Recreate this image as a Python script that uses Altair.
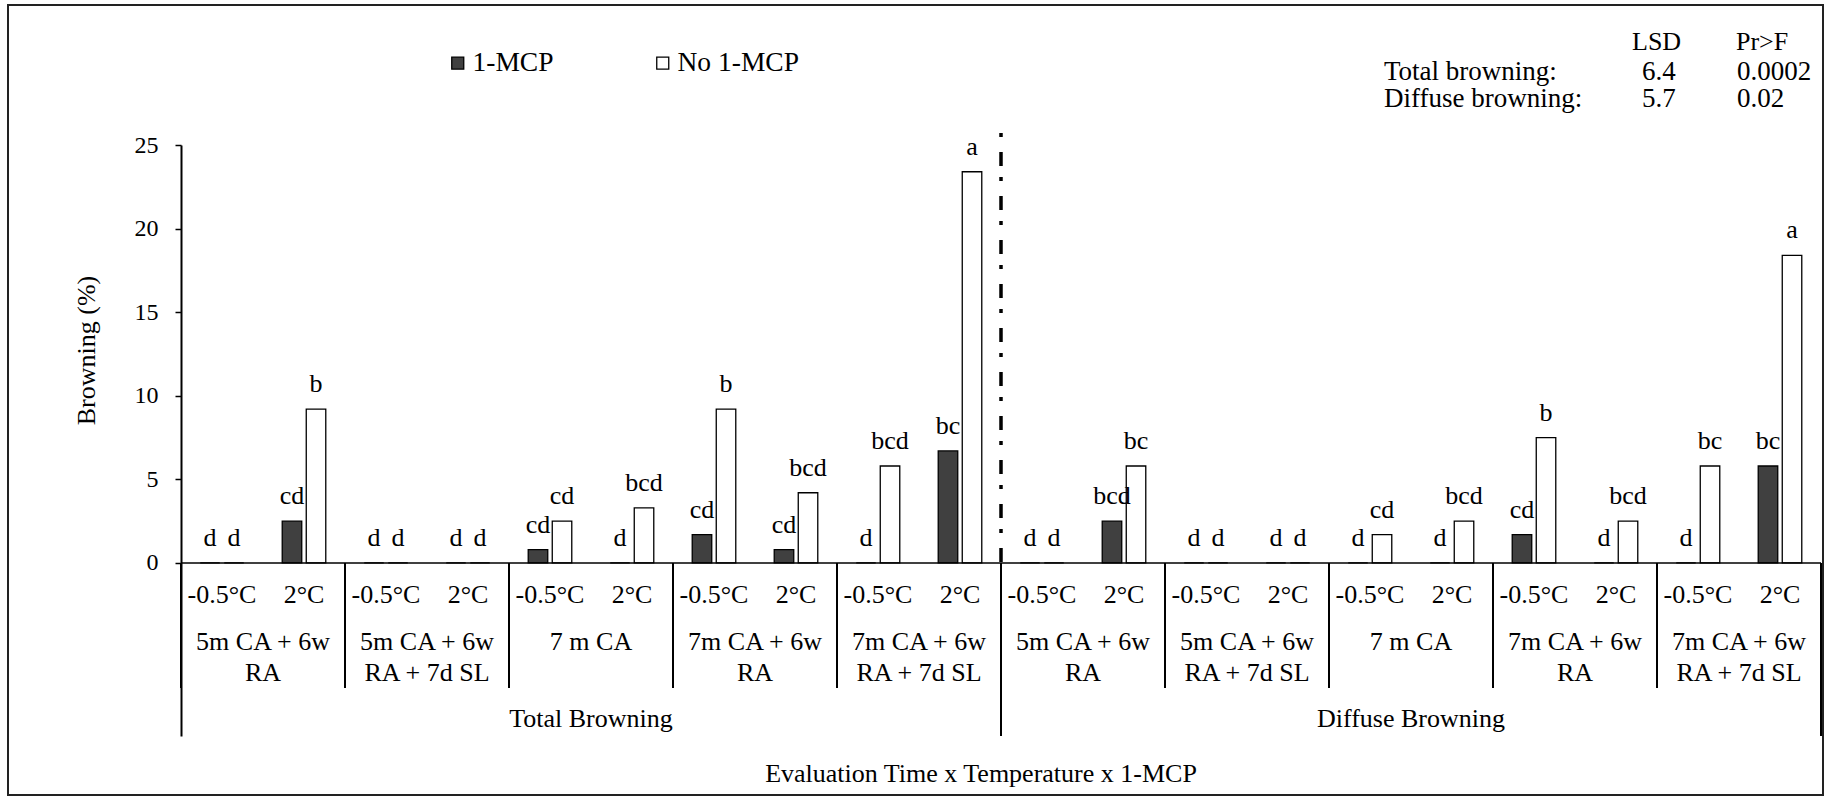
import altair as alt
import pandas as pd

# ---- categories -----------------------------------------------------------
browning_types = ["Total Browning", "Diffuse Browning"]
eval_times = [
    ["5m CA + 6w", "RA"],
    ["5m CA + 6w", "RA + 7d SL"],
    ["7 m CA"],
    ["7m CA + 6w", "RA"],
    ["7m CA + 6w", "RA + 7d SL"],
]
temperatures = ["-0.5°C", "2°C"]
treatments = ["1-MCP", "No 1-MCP"]

# ---- values (%), ordered evaluation time x temperature ---------------------
total_mcp = [0, 2.5, 0, 0, 0.8, 0, 1.7, 0.8, 0, 6.7]
total_no_mcp = [0, 9.2, 0, 0, 2.5, 3.3, 9.2, 4.2, 5.8, 23.4]
diffuse_mcp = [0, 2.5, 0, 0, 0, 0, 1.7, 0, 0, 5.8]
diffuse_no_mcp = [0, 5.8, 0, 0, 1.7, 2.5, 7.5, 2.5, 5.8, 18.4]

# ---- mean separation letters ----------------------------------------------
total_mcp_letters = ["d", "cd", "d", "d", "cd", "d", "cd", "cd", "d", "bc"]
total_no_mcp_letters = ["d", "b", "d", "d", "cd", "bcd", "b", "bcd", "bcd", "a"]
diffuse_mcp_letters = ["d", "bcd", "d", "d", "d", "d", "cd", "d", "d", "bc"]
diffuse_no_mcp_letters = ["d", "bc", "d", "d", "cd", "bcd", "b", "bcd", "bc", "a"]

# ---- statistics box --------------------------------------------------------
stat_rows = ["Total browning:", "Diffuse browning:"]
lsd_values = ["6.4", "5.7"]
pr_values = ["0.0002", "0.02"]

series = {
    ("Total Browning", "1-MCP"): (total_mcp, total_mcp_letters),
    ("Total Browning", "No 1-MCP"): (total_no_mcp, total_no_mcp_letters),
    ("Diffuse Browning", "1-MCP"): (diffuse_mcp, diffuse_mcp_letters),
    ("Diffuse Browning", "No 1-MCP"): (diffuse_no_mcp, diffuse_no_mcp_letters),
}

FONT = "Liberation Serif"
FS = 26
W, H = 1640, 591

keys, temp_rows, time_rows, bar_rows = [], [], [], []
group_starts, type_rows = [], []
for ti, btype in enumerate(browning_types):
    for ei, et in enumerate(eval_times):
        for pi, temp in enumerate(temperatures):
            key = f"{ti}-{ei}-{pi}"
            keys.append(key)
            temp_rows.append({"key": key, "label": temp})
            for tr in treatments:
                vals, lets = series[(btype, tr)]
                bar_rows.append({"key": key, "treatment": tr,
                                 "value": vals[ei * 2 + pi],
                                 "letter": lets[ei * 2 + pi]})
        time_rows.append({"key": f"{ti}-{ei}-1", "label": et})
        group_starts.append({"key": f"{ti}-{ei}-0"})
    type_rows.append({"key": f"{ti}-2-1", "label": btype})

bars_df = pd.DataFrame(bar_rows)
temp_df = pd.DataFrame(temp_rows)
time_df = pd.DataFrame(time_rows)
type_df = pd.DataFrame(type_rows)
groups_df = pd.DataFrame(group_starts)
split_df = pd.DataFrame({"key": ["1-0-0"]})
end_df = pd.DataFrame({"key": [keys[-1]]})
one_df = pd.DataFrame({"k": [0]})

xscale = alt.Scale(domain=keys, paddingInner=0, paddingOuter=0)
yscale = alt.Scale(domain=[-10.35, 25], nice=False, zero=False)
x_enc = alt.X("key:N", scale=xscale, axis=None)
x_edge = alt.X("key:N", scale=xscale, axis=None, bandPosition=0)

yaxis = alt.Axis(
    values=[0, 5, 10, 15, 20, 25], grid=False, title="Browning (%)",
    domainColor="black", domainWidth=2, tickColor="black", tickWidth=1.5,
    tickSize=6, labelPadding=17, labelFont=FONT, labelFontSize=24,
    labelColor="black", titleFont=FONT, titleFontSize=FS, titleFontWeight="normal",
    titleColor="black", titleAngle=270, titleX=-95, titleY=205,
    titleAlign="center", titleBaseline="middle",
)

offset = alt.XOffset("treatment:N",
                     scale=alt.Scale(domain=treatments, paddingInner=0.1875, paddingOuter=0.8))

bars = alt.Chart(bars_df).mark_bar(stroke="black", strokeWidth=1.3).encode(
    x=x_enc,
    xOffset=offset,
    y=alt.Y("value:Q", scale=yscale, axis=yaxis),
    fill=alt.Fill("treatment:N",
                  scale=alt.Scale(domain=treatments, range=["#404040", "#ffffff"]),
                  legend=alt.Legend(title=None, orient="none", legendX=263, legendY=-96,
                                    direction="horizontal", symbolType="square",
                                    symbolSize=144, symbolStrokeColor="black",
                                    symbolStrokeWidth=1.3, labelFont=FONT,
                                    labelFontSize=27.5, labelColor="black",
                                    labelOffset=1, columnPadding=95, padding=0)),
)

txt = dict(font=FONT, fontSize=FS, baseline="alphabetic", color="black")

letters = alt.Chart(bars_df).mark_text(dy=-17, **txt).encode(
    x=x_enc, xOffset=offset, y=alt.Y("value:Q", scale=yscale), text="letter:N")

zero_line = alt.Chart(one_df).mark_rule(color="black", strokeWidth=1.6).encode(
    y=alt.datum(0), x=alt.value(0), x2=alt.value(W))

group_lines = alt.Chart(groups_df).mark_rule(color="black", strokeWidth=2).encode(
    x=x_edge, y=alt.datum(0), y2=alt.value(543))

split_line = alt.Chart(split_df).mark_rule(color="black", strokeWidth=2).encode(
    x=x_edge, y=alt.datum(0), y2=alt.value(H))

end_line = alt.Chart(end_df).mark_rule(color="black", strokeWidth=2).encode(
    x=alt.X("key:N", scale=xscale, axis=None, bandPosition=1),
    y=alt.datum(0), y2=alt.value(H))

# dash-dot divider between the two browning types
dash_line = alt.Chart(split_df).mark_rule(
    color="black", strokeWidth=3.5, strokeDash=[4, 15, 14, 11]
).encode(x=x_edge, y=alt.value(-12), y2=alt.value(418))

temp_text = alt.Chart(temp_df).mark_text(**txt).encode(
    x=x_enc, y=alt.value(458), text="label:N")

time_text = alt.Chart(time_df).mark_text(lineHeight=31, **txt).encode(
    x=x_edge, y=alt.value(505), text="label")

type_text = alt.Chart(type_df).mark_text(**txt).encode(
    x=x_edge, y=alt.value(582), text="label:N")

x_title = alt.Chart(one_df).mark_text(
    text="Evaluation Time x Temperature x 1-MCP", **txt
).encode(x=alt.value(800), y=alt.value(637))

# statistics table at the top right
stat_layers = []
head = [("LSD", 1451), ("Pr>F", 1555)]
for label, xpos in head:
    stat_layers.append(alt.Chart(one_df).mark_text(align="left", text=label, **txt)
                       .encode(x=alt.value(xpos), y=alt.value(-95)))
row_txt = dict(txt, fontSize=27)
row_y = [-65, -38]
for name, lsd, pr, ypos in zip(stat_rows, lsd_values, pr_values, row_y):
    for label, xpos in [(name, 1203), (lsd, 1461), (pr, 1556)]:
        stat_layers.append(alt.Chart(one_df).mark_text(align="left", text=label, **row_txt)
                           .encode(x=alt.value(xpos), y=alt.value(ypos)))

frame = alt.Chart(one_df).mark_rect(fill="transparent", stroke="#222222",
                                    strokeWidth=2).encode(
    x=alt.value(-173), x2=alt.value(1642), y=alt.value(-140), y2=alt.value(650))

chart = alt.layer(
    frame, bars, letters, zero_line, group_lines, split_line, end_line, dash_line,
    temp_text, time_text, type_text, x_title, *stat_layers,
).properties(
    width=W, height=H,
    padding={"left": 7, "top": 4, "right": 0, "bottom": 0},
    background="white",
).configure(font=FONT).configure_view(stroke=None)

chart.save("out.html", embed_options={"renderer": "svg", "actions": False})
